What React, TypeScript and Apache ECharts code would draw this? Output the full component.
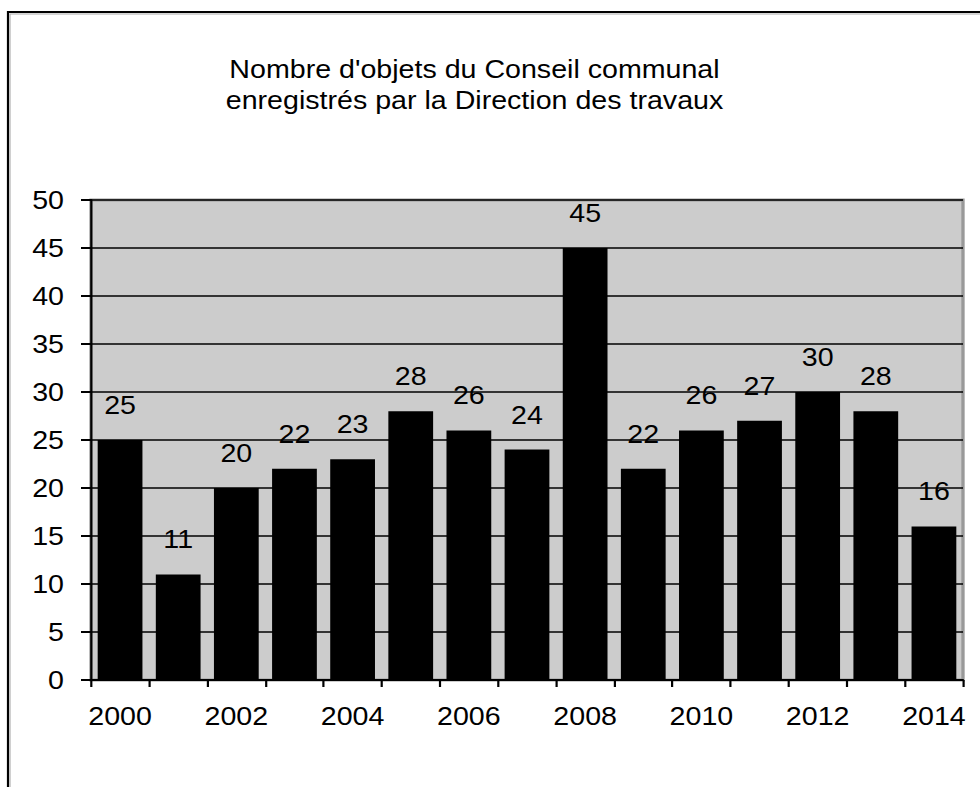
import React, { useEffect, useRef } from "react";
import * as echarts from "echarts";

// Years shown on the category axis
const years: string[] = [
  "2000", "2001", "2002", "2003", "2004", "2005", "2006", "2007",
  "2008", "2009", "2010", "2011", "2012", "2013", "2014",
];

// Number of items registered per year
const counts: number[] = [25, 11, 20, 22, 23, 28, 26, 24, 45, 22, 26, 27, 30, 28, 16];

const titleLines: string[] = [
  "Nombre d'objets du Conseil communal",
  "enregistrés par la Direction des travaux",
];

const FONT = "'Liberation Sans', Arial, Helvetica, sans-serif";

// The chart is laid out on a narrower canvas and widened horizontally,
// which gives the broad lettering of the printed original.
const STRETCH = 1.1;
const PAGE_W = 980;
const PAGE_H = 787;
const sx = (x: number) => x / STRETCH;

export default function App() {
  const ref = useRef<HTMLDivElement | null>(null);

  useEffect(() => {
    if (!ref.current) return;
    const chart = echarts.init(ref.current, undefined, { renderer: "svg" });
    chart.setOption({
      animation: false,
      backgroundColor: "#ffffff",
      textStyle: { fontFamily: FONT },
      title: {
        text: titleLines.join("\n"),
        left: sx(469),
        top: 48,
        textAlign: "center",
        textStyle: {
          fontFamily: FONT,
          fontSize: 26,
          fontWeight: "normal",
          color: "#000",
          lineHeight: 31,
        },
      },
      graphic: [
        {
          type: "rect",
          silent: true,
          z: 100,
          shape: { x: sx(8), y: 12, width: 1200, height: 1200 },
          style: { fill: "none", stroke: "#000", lineWidth: 2 },
        },
        {
          type: "polyline",
          silent: true,
          z: 100,
          shape: { points: [[sx(10), 1000], [sx(10), 14], [1000, 14]] },
          style: { fill: "none", stroke: "#aaa", lineWidth: 1 },
        },
      ],
      grid: {
        left: sx(91),
        top: 200,
        width: sx(872),
        height: 480,
        show: true,
        backgroundColor: "#cccccc",
        borderColor: "#999999",
        borderWidth: 3,
      },
      xAxis: {
        type: "category",
        data: years,
        boundaryGap: true,
        axisLine: { show: true, lineStyle: { color: "#000", width: 2 } },
        axisTick: {
          show: true,
          alignWithLabel: false,
          interval: 0,
          length: 7,
          lineStyle: { color: "#000", width: 2 },
        },
        axisLabel: {
          interval: 1,
          margin: 23,
          fontFamily: FONT,
          fontSize: 26,
          color: "#000",
        },
        splitLine: { show: false },
      },
      yAxis: {
        type: "value",
        min: 0,
        max: 50,
        interval: 5,
        axisLine: { show: true, lineStyle: { color: "#000", width: 2 } },
        axisTick: { show: true, length: sx(10), lineStyle: { color: "#000", width: 2 } },
        axisLabel: {
          margin: sx(27),
          fontFamily: FONT,
          fontSize: 26,
          color: "#000",
        },
        splitLine: { show: true, lineStyle: { color: "#000", width: 1.5 } },
      },
      series: [
        {
          type: "bar",
          data: counts,
          barCategoryGap: "23%",
          itemStyle: { color: "#000" },
          label: {
            show: true,
            position: "top",
            distance: 22,
            fontFamily: FONT,
            fontSize: 26,
            color: "#000",
          },
        },
      ],
    });
    return () => chart.dispose();
  }, []);

  return (
    <div
      style={{
        position: "absolute",
        left: 0,
        top: 0,
        width: PAGE_W,
        height: PAGE_H,
        overflow: "hidden",
        background: "#fff",
      }}
    >
      <div
        ref={ref}
        style={{
          width: PAGE_W / STRETCH,
          height: PAGE_H,
          transform: `scaleX(${STRETCH})`,
          transformOrigin: "0 0",
        }}
      />
    </div>
  );
}
